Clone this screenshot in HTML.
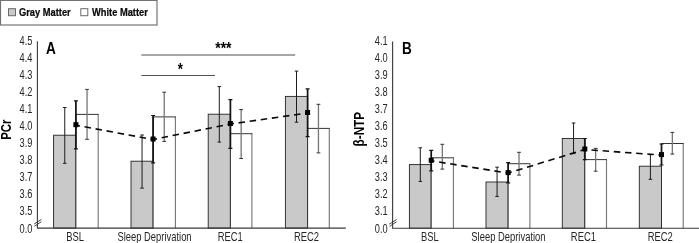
<!DOCTYPE html>
<html><head><meta charset="utf-8"><title>Figure</title>
<style>
html,body{margin:0;padding:0;background:#fff;}
body{width:699px;height:243px;overflow:hidden;}
svg{display:block;font-family:"Liberation Sans", Arial, Helvetica, sans-serif;}
</style></head><body>
<svg width="699" height="243" viewBox="0 0 699 243">
<defs><filter id="b" x="0" y="0" width="100%" height="100%" filterUnits="userSpaceOnUse" color-interpolation-filters="sRGB"><feGaussianBlur stdDeviation="0.26"/></filter></defs>
<rect width="699" height="243" fill="#fff"/>
<g filter="url(#b)">
<rect x="0.5" y="0.4" width="156.5" height="24.6" fill="#fff" stroke="#707070" stroke-width="1.15"/>
<rect x="8.5" y="8.7" width="7" height="7" fill="#c9c9c9" stroke="#6a6a6a" stroke-width="1"/>
<rect x="80.8" y="8.7" width="7" height="7" fill="#fff" stroke="#6a6a6a" stroke-width="1"/>
<text transform="translate(19.0,16.1) scale(0.796,1)" font-size="11.7" text-anchor="start" font-weight="bold" fill="#0a0a0a" stroke="#0a0a0a" stroke-width="0.25">Gray Matter</text>
<text transform="translate(92.0,16.1) scale(0.796,1)" font-size="11.7" text-anchor="start" font-weight="bold" fill="#0a0a0a" stroke="#0a0a0a" stroke-width="0.25">White Matter</text>
<rect x="53.60" y="135.20" width="22.30" height="92.90" fill="#c9c9c9" stroke="#242424" stroke-width="0.9"/>
<rect x="131.00" y="161.20" width="22.10" height="66.90" fill="#c9c9c9" stroke="#242424" stroke-width="0.9"/>
<rect x="208.20" y="114.20" width="22.20" height="113.90" fill="#c9c9c9" stroke="#242424" stroke-width="0.9"/>
<rect x="285.40" y="96.40" width="22.20" height="131.70" fill="#c9c9c9" stroke="#242424" stroke-width="0.9"/>
<rect x="75.90" y="114.40" width="22.30" height="113.70" fill="#ffffff"/>
<path d="M98.20 114.40V228.10" stroke="#787878" stroke-width="1.15" fill="none"/>
<path d="M75.90 114.40H98.70" stroke="#2a2a2a" stroke-width="0.95" fill="none"/>
<path d="M75.90 114.40V228.10" stroke="#242424" stroke-width="0.9" fill="none"/>
<rect x="153.10" y="116.90" width="22.30" height="111.20" fill="#ffffff"/>
<path d="M175.40 116.90V228.10" stroke="#787878" stroke-width="1.15" fill="none"/>
<path d="M153.10 116.90H175.90" stroke="#2a2a2a" stroke-width="0.95" fill="none"/>
<path d="M153.10 116.90V228.10" stroke="#242424" stroke-width="0.9" fill="none"/>
<rect x="230.40" y="133.70" width="21.50" height="94.40" fill="#ffffff"/>
<path d="M251.90 133.70V228.10" stroke="#787878" stroke-width="1.15" fill="none"/>
<path d="M230.40 133.70H252.40" stroke="#2a2a2a" stroke-width="0.95" fill="none"/>
<path d="M230.40 114.20V228.10" stroke="#242424" stroke-width="0.9" fill="none"/>
<rect x="307.60" y="128.40" width="21.70" height="99.70" fill="#ffffff"/>
<path d="M329.30 128.40V228.10" stroke="#787878" stroke-width="1.15" fill="none"/>
<path d="M307.60 128.40H329.80" stroke="#2a2a2a" stroke-width="0.95" fill="none"/>
<path d="M307.60 96.40V228.10" stroke="#242424" stroke-width="0.9" fill="none"/>
<path d="M64.75 107.50V163.30M62.95 107.50h3.6M62.95 163.30h3.6" stroke="#1c1c1c" stroke-width="1" fill="none"/>
<path d="M142.05 135.00V188.10M140.25 135.00h3.6M140.25 188.10h3.6" stroke="#1c1c1c" stroke-width="1" fill="none"/>
<path d="M219.30 86.60V142.10M217.50 86.60h3.6M217.50 142.10h3.6" stroke="#1c1c1c" stroke-width="1" fill="none"/>
<path d="M296.50 71.10V122.20M294.70 71.10h3.6M294.70 122.20h3.6" stroke="#1c1c1c" stroke-width="1" fill="none"/>
<path d="M87.05 89.40V139.30" stroke="#757575" stroke-width="1.3" fill="none"/>
<path d="M85.15 89.40h3.8M85.15 139.30h3.8" stroke="#2a2a2a" stroke-width="0.95" fill="none"/>
<path d="M164.25 92.20V141.40" stroke="#757575" stroke-width="1.3" fill="none"/>
<path d="M162.35 92.20h3.8M162.35 141.40h3.8" stroke="#2a2a2a" stroke-width="0.95" fill="none"/>
<path d="M241.15 109.60V158.50" stroke="#757575" stroke-width="1.3" fill="none"/>
<path d="M239.25 109.60h3.8M239.25 158.50h3.8" stroke="#2a2a2a" stroke-width="0.95" fill="none"/>
<path d="M318.45 104.30V152.90" stroke="#757575" stroke-width="1.3" fill="none"/>
<path d="M316.55 104.30h3.8M316.55 152.90h3.8" stroke="#2a2a2a" stroke-width="0.95" fill="none"/>
<path d="M37.4 41.2V228.1H345.8" stroke="#3a3a3a" stroke-width="1.1" fill="none"/>
<path d="M34.20 224.00l7.2 -4.6M34.40 226.20l7 -4.5" stroke="#303030" stroke-width="0.9" fill="none"/>
<polyline points="75.90,125.20 153.10,139.50 230.40,124.00 307.60,113.00" stroke="#0a0a0a" stroke-width="1.6" stroke-dasharray="6.5 4.7" stroke-dashoffset="2.4" fill="none"/>
<path d="M75.90 100.80V148.80" stroke="#161616" stroke-width="1.75" fill="none"/>
<path d="M73.90 100.80h4M73.90 148.80h4" stroke="#151515" stroke-width="1.2" fill="none"/>
<rect x="73.40" y="122.20" width="5" height="5" fill="#000"/>
<path d="M153.10 115.50V162.80" stroke="#161616" stroke-width="1.75" fill="none"/>
<path d="M151.10 115.50h4M151.10 162.80h4" stroke="#151515" stroke-width="1.2" fill="none"/>
<rect x="150.60" y="136.50" width="5" height="5" fill="#000"/>
<path d="M230.40 99.70V148.30" stroke="#161616" stroke-width="1.75" fill="none"/>
<path d="M228.40 99.70h4M228.40 148.30h4" stroke="#151515" stroke-width="1.2" fill="none"/>
<rect x="227.90" y="121.00" width="5" height="5" fill="#000"/>
<path d="M307.60 88.90V136.60" stroke="#161616" stroke-width="1.75" fill="none"/>
<path d="M305.60 88.90h4M305.60 136.60h4" stroke="#151515" stroke-width="1.2" fill="none"/>
<rect x="305.10" y="110.00" width="5" height="5" fill="#000"/>
<text transform="translate(32.4,45.0) scale(0.745,1)" font-size="12.4" text-anchor="end" fill="#262626">4.5</text>
<text transform="translate(32.4,61.99999999999994) scale(0.745,1)" font-size="12.4" text-anchor="end" fill="#262626">4.4</text>
<text transform="translate(32.4,79.00000000000003) scale(0.745,1)" font-size="12.4" text-anchor="end" fill="#262626">4.3</text>
<text transform="translate(32.4,95.99999999999997) scale(0.745,1)" font-size="12.4" text-anchor="end" fill="#262626">4.2</text>
<text transform="translate(32.4,113.00000000000006) scale(0.745,1)" font-size="12.4" text-anchor="end" fill="#262626">4.1</text>
<text transform="translate(32.4,130.0) scale(0.745,1)" font-size="12.4" text-anchor="end" fill="#262626">4.0</text>
<text transform="translate(32.4,147.0) scale(0.745,1)" font-size="12.4" text-anchor="end" fill="#262626">3.9</text>
<text transform="translate(32.4,164.00000000000003) scale(0.745,1)" font-size="12.4" text-anchor="end" fill="#262626">3.8</text>
<text transform="translate(32.4,180.99999999999997) scale(0.745,1)" font-size="12.4" text-anchor="end" fill="#262626">3.7</text>
<text transform="translate(32.4,198.0) scale(0.745,1)" font-size="12.4" text-anchor="end" fill="#262626">3.6</text>
<text transform="translate(32.4,215.0) scale(0.745,1)" font-size="12.4" text-anchor="end" fill="#262626">3.5</text>
<text transform="translate(32.4,233.1) scale(0.745,1)" font-size="12.4" text-anchor="end" fill="#262626">0.0</text>
<text transform="translate(75.05,241.0) scale(0.758,1)" font-size="12.4" text-anchor="middle" fill="#262626">BSL</text>
<text transform="translate(154.5,241.0) scale(0.758,1)" font-size="12.4" text-anchor="middle" fill="#262626">Sleep Deprivation</text>
<text transform="translate(230.25,241.0) scale(0.758,1)" font-size="12.4" text-anchor="middle" fill="#262626">REC1</text>
<text transform="translate(306.45,241.0) scale(0.758,1)" font-size="12.4" text-anchor="middle" fill="#262626">REC2</text>
<text transform="translate(46.0,53.7) scale(0.85,1)" font-size="16" text-anchor="start" font-weight="bold" fill="#000">A</text>
<text transform="translate(11.0,129.6) rotate(-90) scale(0.75,1)" font-size="15.2" text-anchor="middle" font-weight="bold" fill="#000">PCr</text>
<path d="M141.3 54.9H295.2" stroke="#8a8a8a" stroke-width="1.5" fill="none"/>
<path d="M141.3 75.5H214.9" stroke="#404040" stroke-width="0.9" fill="none"/>
<text transform="translate(223.4,54.0) scale(0.87,1)" font-size="16" text-anchor="middle" font-weight="bold" fill="#000">***</text>
<text transform="translate(180.4,74.6) scale(0.82,1)" font-size="16" text-anchor="middle" font-weight="bold" fill="#000">*</text>
<rect x="409.40" y="164.60" width="21.80" height="63.60" fill="#c9c9c9" stroke="#242424" stroke-width="0.9"/>
<rect x="486.00" y="182.00" width="22.15" height="46.20" fill="#c9c9c9" stroke="#242424" stroke-width="0.9"/>
<rect x="562.30" y="138.50" width="22.50" height="89.70" fill="#c9c9c9" stroke="#242424" stroke-width="0.9"/>
<rect x="639.30" y="166.20" width="22.20" height="62.00" fill="#c9c9c9" stroke="#242424" stroke-width="0.9"/>
<rect x="431.20" y="157.80" width="22.25" height="70.40" fill="#ffffff"/>
<path d="M453.45 157.80V228.20" stroke="#787878" stroke-width="1.15" fill="none"/>
<path d="M431.20 157.80H453.95" stroke="#2a2a2a" stroke-width="0.95" fill="none"/>
<path d="M431.20 157.80V228.20" stroke="#242424" stroke-width="0.9" fill="none"/>
<rect x="508.15" y="163.70" width="21.75" height="64.50" fill="#ffffff"/>
<path d="M529.90 163.70V228.20" stroke="#787878" stroke-width="1.15" fill="none"/>
<path d="M508.15 163.70H530.40" stroke="#2a2a2a" stroke-width="0.95" fill="none"/>
<path d="M508.15 163.70V228.20" stroke="#242424" stroke-width="0.9" fill="none"/>
<rect x="584.80" y="159.60" width="21.70" height="68.60" fill="#ffffff"/>
<path d="M606.50 159.60V228.20" stroke="#787878" stroke-width="1.15" fill="none"/>
<path d="M584.80 159.60H607.00" stroke="#2a2a2a" stroke-width="0.95" fill="none"/>
<path d="M584.80 138.50V228.20" stroke="#242424" stroke-width="0.9" fill="none"/>
<rect x="661.50" y="143.50" width="21.70" height="84.70" fill="#ffffff"/>
<path d="M683.20 143.50V228.20" stroke="#787878" stroke-width="1.15" fill="none"/>
<path d="M661.50 143.50H683.70" stroke="#2a2a2a" stroke-width="0.95" fill="none"/>
<path d="M661.50 143.50V228.20" stroke="#242424" stroke-width="0.9" fill="none"/>
<path d="M420.30 147.80V181.40M418.50 147.80h3.6M418.50 181.40h3.6" stroke="#1c1c1c" stroke-width="1" fill="none"/>
<path d="M497.07 167.20V196.40M495.27 167.20h3.6M495.27 196.40h3.6" stroke="#1c1c1c" stroke-width="1" fill="none"/>
<path d="M573.55 123.00V153.60M571.75 123.00h3.6M571.75 153.60h3.6" stroke="#1c1c1c" stroke-width="1" fill="none"/>
<path d="M650.40 154.60V179.30M648.60 154.60h3.6M648.60 179.30h3.6" stroke="#1c1c1c" stroke-width="1" fill="none"/>
<path d="M442.32 144.30V169.10" stroke="#757575" stroke-width="1.3" fill="none"/>
<path d="M440.43 144.30h3.8M440.43 169.10h3.8" stroke="#2a2a2a" stroke-width="0.95" fill="none"/>
<path d="M519.02 152.30V175.10" stroke="#757575" stroke-width="1.3" fill="none"/>
<path d="M517.12 152.30h3.8M517.12 175.10h3.8" stroke="#2a2a2a" stroke-width="0.95" fill="none"/>
<path d="M595.65 148.40V171.20" stroke="#757575" stroke-width="1.3" fill="none"/>
<path d="M593.75 148.40h3.8M593.75 171.20h3.8" stroke="#2a2a2a" stroke-width="0.95" fill="none"/>
<path d="M672.35 132.40V154.10" stroke="#757575" stroke-width="1.3" fill="none"/>
<path d="M670.45 132.40h3.8M670.45 154.10h3.8" stroke="#2a2a2a" stroke-width="0.95" fill="none"/>
<path d="M392.6 41.6V228.2H700" stroke="#3a3a3a" stroke-width="1.1" fill="none"/>
<path d="M389.40 224.10l7.2 -4.6M389.60 226.30l7 -4.5" stroke="#303030" stroke-width="0.9" fill="none"/>
<polyline points="431.20,160.80 508.15,173.10 584.80,149.50 661.50,155.10" stroke="#0a0a0a" stroke-width="1.6" stroke-dasharray="6.5 4.7" stroke-dashoffset="3.2" fill="none"/>
<path d="M431.20 150.30V170.80" stroke="#161616" stroke-width="1.75" fill="none"/>
<path d="M429.20 150.30h4M429.20 170.80h4" stroke="#151515" stroke-width="1.2" fill="none"/>
<rect x="428.70" y="157.80" width="5" height="5" fill="#000"/>
<path d="M508.15 162.70V182.80" stroke="#161616" stroke-width="1.75" fill="none"/>
<path d="M506.15 162.70h4M506.15 182.80h4" stroke="#151515" stroke-width="1.2" fill="none"/>
<rect x="505.65" y="170.10" width="5" height="5" fill="#000"/>
<path d="M584.80 138.50V159.60" stroke="#161616" stroke-width="1.75" fill="none"/>
<path d="M582.80 138.50h4M582.80 159.60h4" stroke="#151515" stroke-width="1.2" fill="none"/>
<rect x="582.30" y="146.50" width="5" height="5" fill="#000"/>
<path d="M661.50 144.00V165.00" stroke="#161616" stroke-width="1.75" fill="none"/>
<path d="M659.50 144.00h4M659.50 165.00h4" stroke="#151515" stroke-width="1.2" fill="none"/>
<rect x="659.00" y="152.10" width="5" height="5" fill="#000"/>
<text transform="translate(387.6,45.000000000000085) scale(0.745,1)" font-size="12.4" text-anchor="end" fill="#262626">4.1</text>
<text transform="translate(387.6,62.000000000000085) scale(0.745,1)" font-size="12.4" text-anchor="end" fill="#262626">4.0</text>
<text transform="translate(387.6,79.00000000000011) scale(0.745,1)" font-size="12.4" text-anchor="end" fill="#262626">3.9</text>
<text transform="translate(387.6,96.00000000000004) scale(0.745,1)" font-size="12.4" text-anchor="end" fill="#262626">3.8</text>
<text transform="translate(387.6,113.00000000000006) scale(0.745,1)" font-size="12.4" text-anchor="end" fill="#262626">3.7</text>
<text transform="translate(387.6,130.00000000000006) scale(0.745,1)" font-size="12.4" text-anchor="end" fill="#262626">3.6</text>
<text transform="translate(387.6,147.00000000000009) scale(0.745,1)" font-size="12.4" text-anchor="end" fill="#262626">3.5</text>
<text transform="translate(387.6,164.0000000000001) scale(0.745,1)" font-size="12.4" text-anchor="end" fill="#262626">3.4</text>
<text transform="translate(387.6,181.00000000000006) scale(0.745,1)" font-size="12.4" text-anchor="end" fill="#262626">3.3</text>
<text transform="translate(387.6,198.00000000000006) scale(0.745,1)" font-size="12.4" text-anchor="end" fill="#262626">3.2</text>
<text transform="translate(387.6,215.00000000000009) scale(0.745,1)" font-size="12.4" text-anchor="end" fill="#262626">3.1</text>
<text transform="translate(387.6,233.2) scale(0.745,1)" font-size="12.4" text-anchor="end" fill="#262626">0.0</text>
<text transform="translate(429.95,241.0) scale(0.758,1)" font-size="12.4" text-anchor="middle" fill="#262626">BSL</text>
<text transform="translate(508.45,241.0) scale(0.758,1)" font-size="12.4" text-anchor="middle" fill="#262626">Sleep Deprivation</text>
<text transform="translate(583.4,241.0) scale(0.758,1)" font-size="12.4" text-anchor="middle" fill="#262626">REC1</text>
<text transform="translate(660.3,241.0) scale(0.758,1)" font-size="12.4" text-anchor="middle" fill="#262626">REC2</text>
<text transform="translate(402.1,53.7) scale(0.85,1)" font-size="16" text-anchor="start" font-weight="bold" fill="#000">B</text>
<text transform="translate(363.8,129.2) rotate(-90) scale(0.835,1)" font-size="14.0" text-anchor="middle" font-weight="bold" fill="#000">β-NTP</text>
</g></svg></body></html>
